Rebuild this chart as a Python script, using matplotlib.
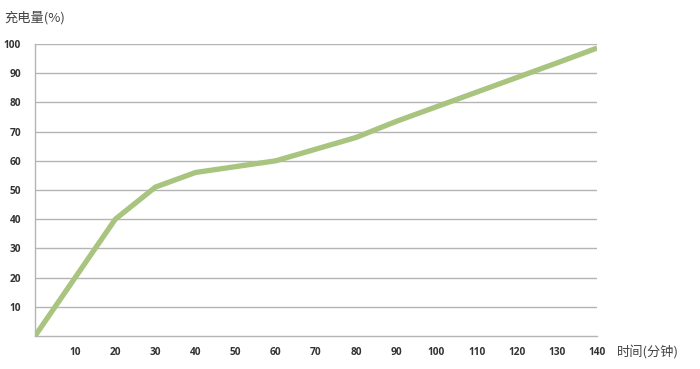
import matplotlib
matplotlib.use("Agg")
import matplotlib.pyplot as plt

plt.rcParams['font.family'] = ['Noto Sans CJK SC', 'DejaVu Sans']

time_min = [0, 10, 20, 30, 40, 50, 60, 70, 80, 90, 100, 110, 120, 130, 140]
charge_pct = [0, 20, 40, 51, 56, 58, 60, 64, 68, 73.5, 78.5, 83.5, 88.5, 93.5, 98.6]
x_ticks = [10, 20, 30, 40, 50, 60, 70, 80, 90, 100, 110, 120, 130, 140]
y_ticks = [10, 20, 30, 40, 50, 60, 70, 80, 90, 100]

fig = plt.figure(figsize=(7, 3.69), dpi=100)
ax = fig.add_axes([0.05, 0.0894, 0.803, 0.7915])

ax.plot(time_min, charge_pct, color='#a8c47e', lw=3.8, solid_capstyle='butt', zorder=3)

ax.set_xlim(0, 140)
ax.set_ylim(0, 100)
ax.set_xticks(x_ticks)
ax.set_yticks(y_ticks)
ax.set_xticklabels([str(v) for v in x_ticks], fontsize=7.3, color='#333333',
                   family='Open Sans', fontweight='bold')
ax.set_yticklabels([str(v) for v in y_ticks], fontsize=7.3, color='#333333',
                   family='Open Sans', fontweight='bold')
ax.tick_params(length=0, pad=8)
ax.tick_params(axis='y', pad=10)

ax.grid(axis='y', color='#b4b4b4', lw=1)
ax.set_axisbelow(True)
for s in ['top', 'right']:
    ax.spines[s].set_visible(False)
ax.spines['left'].set_color('#b4b4b4')
ax.spines['bottom'].set_color('#b4b4b4')
ax.spines['left'].set_linewidth(1)
ax.spines['bottom'].set_linewidth(1)

fig.text(0.006, 0.953, '充电量(%)', fontsize=9.5, color='#444444', va='center', ha='left')
fig.text(0.882, 0.046, '时间(分钟)', fontsize=9.5, color='#444444', va='center', ha='left')

fig.savefig('out.png', dpi=100)
